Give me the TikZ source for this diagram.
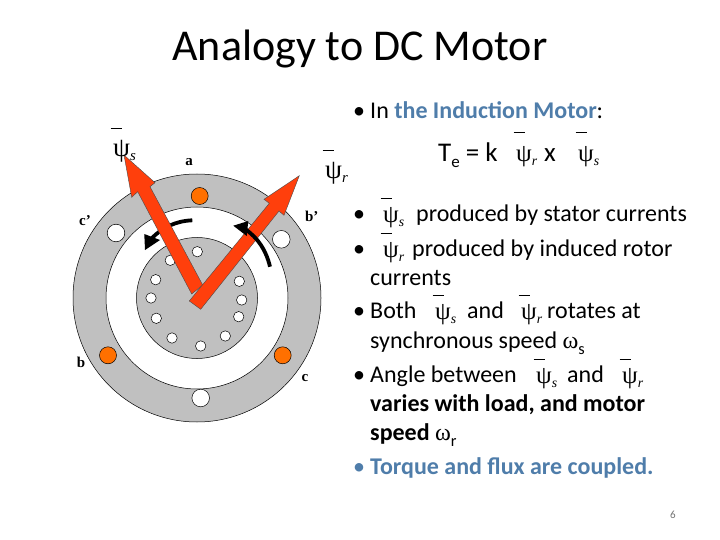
\documentclass[tikz,border=0pt]{standalone}
\usepackage{fontspec}
\setmainfont{Carlito}
\newfontfamily\symbfont{Liberation Serif}
\usetikzlibrary{arrows.meta}
\definecolor{motorgray}{HTML}{C0C0C0}
\definecolor{motorred}{HTML}{FF3F0C}
\definecolor{motororange}{HTML}{FF7000}
\definecolor{motorblue}{HTML}{4F7DAA}
% flux symbol with its bar, #1 = bar height, #2 = subscript
\newcommand{\fluxsym}[2][.88]{{\symbfont\makebox[0pt][l]{\hspace{-.1em}\raisebox{#1em}{\rule{.44em}{.04em}}}\raisebox{-.06em}{ψ}\raisebox{-.22em}{\fontsize{.55em}{.55em}\selectfont\itshape #2}}}
\newcommand{\speedsym}[1]{{\symbfont ω}\raisebox{-.25em}{\fontsize{.68em}{.68em}\selectfont #1}}
\tikzset{
  body/.style={anchor=base west, inner sep=0pt, font=\fontsize{24}{24}\selectfont},
  eqn/.style={anchor=base west, inner sep=0pt, font=\fontsize{27}{27}\selectfont},
  flux/.style={anchor=base west, inner sep=0pt, font=\fontsize{25}{25}\selectfont},
  bigflux/.style={anchor=base west, inner sep=0pt, font=\fontsize{27}{27}\selectfont},
  phase/.style={inner sep=0pt, font=\fontsize{15}{15}\selectfont\symbfont\bfseries},
  part/.style={draw=black, line width=.5pt},
  vect/.style={draw=black!70, line width=.4pt, fill=motorred},
  turn/.style={line width=3.8pt, black},
}
\begin{document}
\begin{tikzpicture}[x=1pt,y=-1pt]
  \useasboundingbox (0,0) rectangle (720,540);
  \node[anchor=base, inner sep=0pt, font=\fontsize{44}{44}\selectfont] (title) at (360,61) {Analogy to DC Motor};
  % stator and rotor
  \draw[part,fill=motorgray] (197,298) circle[radius=124];
  \draw[part,fill=white] (197,298) circle[radius=91];
  \draw[part,fill=motorgray] (197,298) circle[radius=60.5];
  \foreach \px/\py in {116/233,281.3/239.3,200.7/398}
    \draw[part,fill=white] (\px,\py) circle[radius=8.8];
  \foreach \px/\py in {199.7/196,108/355.3,282.7/355.3}
    \draw[part,fill=motororange] (\px,\py) circle[radius=8.5];
  \foreach \px/\py in {197.3/251.7,170.3/260.3,155.7/279.7,151/298,156.3/318.3,172/338,200.7/346,225.3/336,238.7/316.7,241.7/300,239.3/281.3}
    \draw[part,fill=white] (\px,\py) circle[radius=5.2];
  % left turning arrow goes under the vectors
  \draw[turn] (192.3,220.3) .. controls (175,221) and (162,228) .. (152,238);
  \fill[black] (145,250) -- (144.3,234) -- (160,240) -- cycle;
  % flux vectors
  \draw[vect] (124,155) -- (155,182.7) -- (150,186.7) -- (202.7,285) -- (191.7,294)
    -- (137.7,191.7) -- (131.7,197.3) -- cycle;
  \draw[vect] (299.3,175.7) -- (284,215.3) -- (279,211) -- (200.7,309.3) -- (189.3,301)
    -- (269.3,203.3) -- (264,199.3) -- cycle;
  % right turning arrow stays on top
  \draw[turn] (270,266.7) .. controls (266,250) and (258,238) .. (245,229);
  \fill[black] (233.3,225.7) -- (248.3,221) -- (246.7,236) -- cycle;
  % phase labels
  \node[phase] (phasea) at (189,162) {a};
  \node[phase] (phasecc) at (85,220.7) {c’};
  \node[phase] (phasebb) at (311.7,216) {b’};
  \node[phase] (phaseb) at (81,362.3) {b};
  \node[phase] (phasec) at (305,378) {c};
  \node[bigflux] (fluxs) at (113,155) {\fluxsym[.96]{s}};
  \node[bigflux] (fluxr) at (325,177) {\fluxsym[.96]{r}};
  % first bullet and torque equation
  \node[body] (dota) at (353,118.7) {•};
  \node[body] (linea) at (370,118.7) {In \textcolor{motorblue}{\textbf{the Induction Motor}}:};
  \node[eqn] (torque) at (438,162) {T\raisebox{-.2em}{\fontsize{17}{17}\selectfont e} = k};
  \node[flux] (torquer) at (516,160) {\fluxsym[1.08]{r}};
  \node[eqn] (torquex) at (544,162) {x};
  \node[flux] (torques) at (578,160) {\fluxsym[1.08]{s}};
  % stator and rotor flux lines
  \node[body] (dotb) at (353,221.7) {•};
  \node[flux] (lineb) at (383,220.7) {\fluxsym{s}};
  \node[body] (linebt) at (416,221.7) {produced by stator currents};
  \node[body] (dotc) at (353,256.7) {•};
  \node[flux] (linec) at (383,255.7) {\fluxsym{r}};
  \node[body] (linect) at (412,256.7) {produced by induced rotor};
  \node[body] (lined) at (370,285.3) {currents};
  % synchronous speed
  \node[body] (dote) at (353,318.3) {•};
  \node[body] (linee) at (370,318.3) {Both};
  \node[flux] (lineep) at (435,318.3) {\fluxsym{s}};
  \node[body] (lineea) at (467,318.3) {and};
  \node[flux] (lineeq) at (521,318.3) {\fluxsym{r}};
  \node[body] (lineer) at (547,318.3) {rotates at};
  \node[body] (linef) at (370,348) {synchronous speed \speedsym{s}};
  % angle
  \node[body] (dotg) at (353,382.3) {•};
  \node[body] (lineg) at (370,382.3) {Angle between};
  \node[flux] (linegp) at (536,382.3) {\fluxsym{s}};
  \node[body] (linega) at (567,382.3) {and};
  \node[flux] (linegq) at (622,382.3) {\fluxsym{r}};
  \node[body] (lineh) at (370,411.7) {\textbf{varies with load, and motor}};
  \node[body] (linei) at (370,440) {\textbf{speed} \speedsym{r}};
  % last bullet
  \node[body,motorblue] (dotj) at (353,474) {•};
  \node[body,motorblue] (linej) at (370,474) {\textbf{Torque and flux are coupled.}};
  \node[anchor=base, inner sep=0pt, black!55, font=\fontsize{11}{11}\selectfont] (pagenum) at (673,518.7) {6};
\end{tikzpicture}
\end{document}
